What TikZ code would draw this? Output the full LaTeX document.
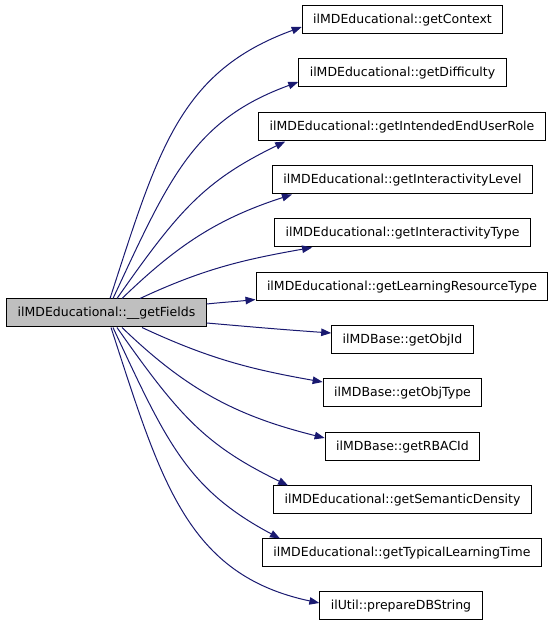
\documentclass[tikz,border=0pt]{standalone}
\usepackage{fontspec}
\setmainfont{DejaVu Sans}
\usetikzlibrary{arrows.meta}
\definecolor{CGEdge}{HTML}{191970}
\definecolor{CGMain}{HTML}{BFBFBF}
\definecolor{CGLine}{HTML}{000000}
\tikzset{
  fnbox/.style={draw=CGLine,line width=1pt,fill=white,minimum height=28pt,
                inner xsep=11pt,inner ysep=0pt,font=\fontsize{12.5}{15}\selectfont},
  fnmain/.style={fnbox,fill=CGMain},
  call/.style={-{Triangle[length=10pt,width=7.5pt]},CGEdge,line width=1pt},
  bow/.style={out looseness=1.2},
}
\begin{document}
\begin{tikzpicture}[x=1pt,y=1pt]
  \useasboundingbox (0,0) rectangle (555,627);

  % caller
  \node[fnmain] (main) at (106.5,314) {ilMDEducational::\_\_getFields};

  % callees, top to bottom
  \node[fnbox] (ctx)  at (402.5,607) {ilMDEducational::getContext};
  \node[fnbox] (dif)  at (402.5,554) {ilMDEducational::getDifficulty};
  \node[fnbox] (role) at (402,500)   {ilMDEducational::getIntendedEndUserRole};
  \node[fnbox] (ilev) at (402.5,447) {ilMDEducational::getInteractivityLevel};
  \node[fnbox] (ityp) at (402.5,394) {ilMDEducational::getInteractivityType};
  \node[fnbox] (lrt)  at (402,340)   {ilMDEducational::getLearningResourceType};
  \node[fnbox] (oid)  at (402.5,287) {ilMDBase::getObjId};
  \node[fnbox] (otyp) at (402.5,234) {ilMDBase::getObjType};
  \node[fnbox] (rbac) at (402.5,180) {ilMDBase::getRBACId};
  \node[fnbox] (sem)  at (402.5,127) {ilMDEducational::getSemanticDensity};
  \node[fnbox] (tlt)  at (402,74)    {ilMDEducational::getTypicalLearningTime};
  \node[fnbox] (dbs)  at (401,21)    {ilUtil::prepareDBString};

  % calls
  \draw[call] ([xshift=3.5]main.north)  to[out=72,in=200,bow] ([yshift=-7]ctx.west);
  \draw[call] ([xshift=6.5]main.north)  to[out=65,in=200,bow] ([yshift=-9]dif.west);
  \draw[call] ([xshift=10.5]main.north) to[out=55,in=206,bow] ([xshift=27]role.south west);
  \draw[call] ([xshift=15.5]main.north) to[out=44,in=198] ([xshift=20]ilev.south west);
  \draw[call] ([xshift=33.5]main.north) to[out=25,in=190] ([xshift=38]ityp.south west);
  \draw[call] ([yshift=9]main.east)     to[out=6,in=186]  ([yshift=2]lrt.south west);
  \draw[call] ([yshift=-10]main.east)   to[out=-5,in=176] ([yshift=7]oid.west);
  \draw[call] ([xshift=35.5]main.south) to[out=-25,in=170] ([yshift=11]otyp.west);
  \draw[call] ([xshift=15.5]main.south) to[out=-44,in=166] ([yshift=9]rbac.west);
  \draw[call] ([xshift=10.5]main.south) to[out=-55,in=154,bow] ([xshift=15]sem.north west);
  \draw[call] ([xshift=6.5]main.south)  to[out=-65,in=152,bow] ([xshift=18]tlt.north west);
  \draw[call] ([xshift=4.5]main.south)  to[out=-72,in=168,bow] ([yshift=3]dbs.west);
\end{tikzpicture}
\end{document}
